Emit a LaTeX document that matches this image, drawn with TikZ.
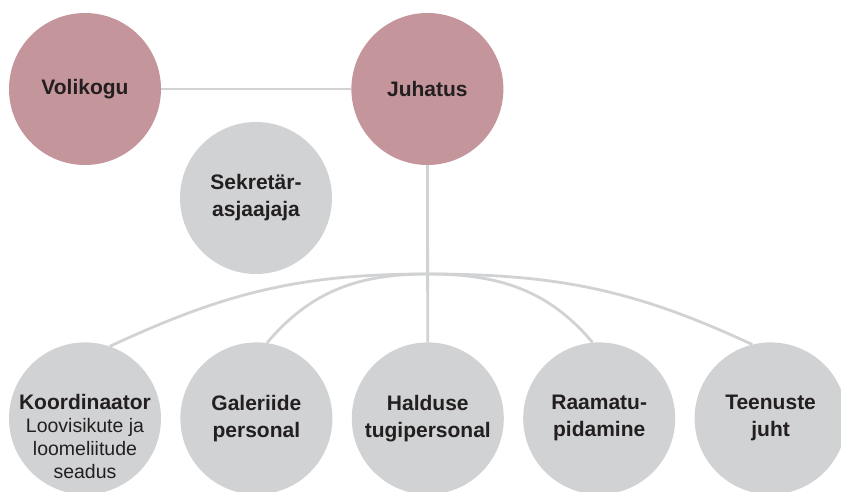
\documentclass[tikz,border=0pt]{standalone}
\usepackage{fontspec}
\setmainfont{Liberation Sans}
\usetikzlibrary{positioning}

\definecolor{boardpink}{RGB}{196,150,155}
\definecolor{staffgrey}{RGB}{209,210,212}
\definecolor{inkdark}{RGB}{35,31,32}

\begin{document}
\begin{tikzpicture}[
        x=1pt, y=1pt,
        unit/.style={
                circle,
                fill=#1,
                minimum size=152pt,
                inner sep=0pt,
                align=center,
                text=inkdark,
                font=\fontsize{21}{27}\selectfont\bfseries
            },
        unit/.default=staffgrey,
        note/.style={font=\fontsize{19.5}{23}\selectfont, align=center, text=inkdark, inner sep=0pt},
        link/.style={draw=staffgrey, line width=2.8pt}
    ]
    \useasboundingbox (-85,89) rectangle (756,-402);

    \node[unit=boardpink] (volikogu) at (0,0) {Volikogu};
    \node[unit=boardpink] (juhatus) [right=190pt of volikogu] {Juhatus};
    \node[unit] (sekretar) at ([xshift=171pt,yshift=-109pt]volikogu.center) {Sekretär-\\asjaajaja};

    \node[unit] (koord) [below=177pt of volikogu] {};
    \node[unit] (galerii) [right=19pt of koord] {Galeriide\\personal};
    \node[unit] (haldus) [right=19pt of galerii] {Halduse\\tugipersonal};
    \node[unit] (raamat) [right=19pt of haldus] {Raamatu-\\pidamine};
    \node[unit] (teenus) [right=19pt of raamat] {Teenuste\\juht};
    \node[note, anchor=north] (koordtext) at ([yshift=24pt]koord.center)
        {{\fontsize{21}{27}\selectfont\bfseries Koordinaator}\\Loovisikute ja\\loomeliitude\\seadus};

    \coordinate (fork) at ([yshift=-185pt]juhatus.center);

    \draw[link] (volikogu) -- (juhatus);
    \draw[link] (juhatus) -- (haldus);
    \draw[link] (fork) to[out=180,in=25] (koord.71);
    \draw[link] (fork) to[out=180,in=50] (galerii.82);
    \draw[link] (fork) to[out=0,in=130] (raamat.95);
    \draw[link] (fork) to[out=0,in=155] (teenus.104);
\end{tikzpicture}
\end{document}
